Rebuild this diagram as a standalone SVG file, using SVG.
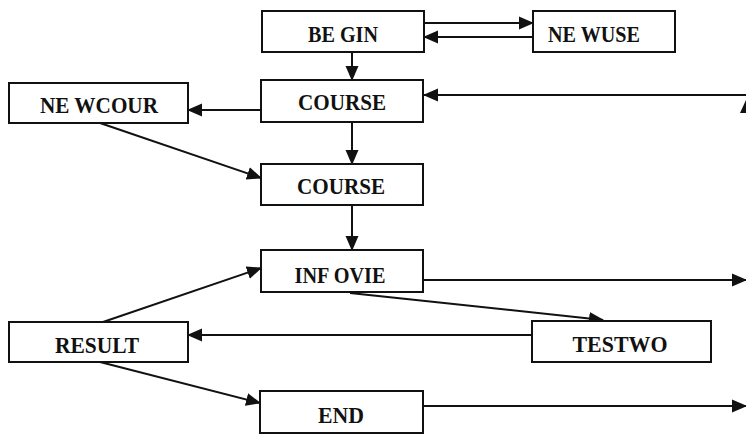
<svg xmlns="http://www.w3.org/2000/svg" width="746" height="437" viewBox="0 0 746 437">
<style>
.box{fill:#fff;stroke:#111;stroke-width:2}
.lbl{font-family:"Liberation Serif","Times New Roman",serif;font-weight:bold;font-size:23px;fill:#111;text-anchor:middle}
.c{stroke:#111;stroke-width:2;fill:none;marker-end:url(#ah)}
</style>
<defs>
<marker id="ah" markerUnits="userSpaceOnUse" markerWidth="15" markerHeight="14" viewBox="0 0 15 13" refX="14" refY="6.5" orient="auto">
<path d="M0,0 L15,6.5 L0,13 Z" fill="#111"/>
</marker>
</defs>
<rect width="746" height="437" fill="#fff"/>
<g id="connectors">
<line class="c" x1="424" y1="23" x2="533" y2="23"/>
<line class="c" x1="533" y1="37" x2="424" y2="37"/>
<line class="c" x1="352" y1="52" x2="352" y2="80"/>
<line class="c" x1="261" y1="110" x2="188" y2="110"/>
<line class="c" x1="746" y1="95" x2="424" y2="95"/>
<line class="c" x1="352" y1="122" x2="352" y2="164"/>
<line class="c" x1="100" y1="123" x2="261" y2="178"/>
<line class="c" x1="352" y1="205" x2="352" y2="250"/>
<line class="c" x1="423" y1="280" x2="746" y2="280"/>
<line class="c" x1="350" y1="293" x2="603" y2="320"/>
<line class="c" x1="103" y1="322" x2="261" y2="268"/>
<line class="c" x1="532" y1="335" x2="188" y2="335"/>
<line class="c" x1="100" y1="362" x2="260" y2="403"/>
<line class="c" x1="423" y1="406" x2="746" y2="406"/>
<path d="M746,100 L740,113 L746,113 Z" fill="#111"/>
</g>
<g id="begin"><rect class="box" x="262" y="11" width="162" height="41"/><text class="lbl" x="343" y="42" textLength="70" lengthAdjust="spacingAndGlyphs">BE GIN</text></g>
<g id="newuse"><rect class="box" x="533" y="11" width="142" height="41"/><text class="lbl" x="594" y="42" textLength="92" lengthAdjust="spacingAndGlyphs">NE WUSE</text></g>
<g id="course1"><rect class="box" x="261" y="80" width="162" height="42"/><text class="lbl" x="342" y="110" textLength="88" lengthAdjust="spacingAndGlyphs">COURSE</text></g>
<g id="newcour"><rect class="box" x="9" y="83" width="179" height="40"/><text class="lbl" x="99" y="113" textLength="118" lengthAdjust="spacingAndGlyphs">NE WCOUR</text></g>
<g id="course2"><rect class="box" x="261" y="164" width="162" height="41"/><text class="lbl" x="341" y="194" textLength="88" lengthAdjust="spacingAndGlyphs">COURSE</text></g>
<g id="infovie"><rect class="box" x="261" y="250" width="162" height="42"/><text class="lbl" x="340" y="283" textLength="91" lengthAdjust="spacingAndGlyphs">INF OVIE</text></g>
<g id="result"><rect class="box" x="9" y="322" width="179" height="40"/><text class="lbl" x="97" y="353" textLength="84" lengthAdjust="spacingAndGlyphs">RESULT</text></g>
<g id="testwo"><rect class="box" x="532" y="321" width="179" height="41"/><text class="lbl" x="620" y="352" textLength="95" lengthAdjust="spacingAndGlyphs">TESTWO</text></g>
<g id="end"><rect class="box" x="260" y="391" width="163" height="42"/><text class="lbl" x="341" y="423" textLength="46" lengthAdjust="spacingAndGlyphs">END</text></g>
</svg>
